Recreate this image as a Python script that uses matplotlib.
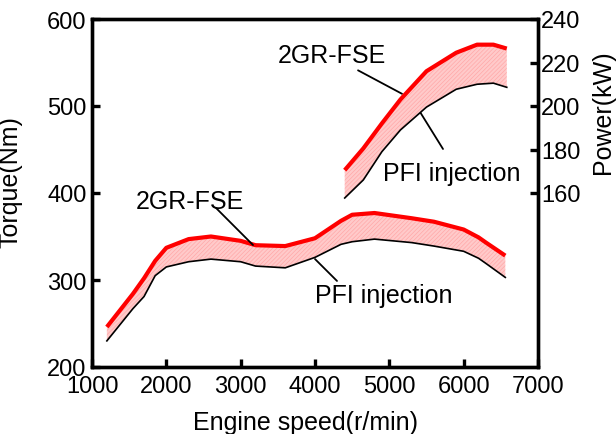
import matplotlib
matplotlib.use("Agg")
import matplotlib.pyplot as plt

plt.rcParams['font.family'] = ['Liberation Sans', 'DejaVu Sans']
plt.rcParams['hatch.linewidth'] = 0.5

# Torque data (Nm)
torque_rpm = [1200, 1550, 1700, 1850, 2000, 2300, 2600, 3000, 3200, 3600, 4000,
              4350, 4500, 4800, 5300, 5600, 6000, 6200, 6300, 6560]
torque_fse = [246, 284, 302, 322, 337, 347, 350, 345, 340, 339, 348,
              368, 375, 377, 371, 367, 358, 349, 343, 328]
torque_pfi = [230, 267, 281, 305, 315, 321, 324, 321, 316, 314, 326,
              341, 344, 347, 343, 339, 333, 325, 319, 303]

# Power data (kW)
power_rpm = [4400, 4650, 4900, 5150, 5500, 5900, 6180, 6400, 6580]
power_fse = [170.5, 180.5, 192, 203, 216, 224.5, 228.2, 228.2, 226.4]
power_pfi = [157.7, 166, 179, 189, 199.5, 207.7, 210, 210.5, 208.6]

fig = plt.figure(figsize=(6.16, 4.35), dpi=100)
ax = fig.add_axes([92/616, 1-368/435, (538-92)/616, (368-20)/435])
ax2 = ax.twinx()

fill_kw = dict(facecolor='#ffcaca', hatch='////////', edgecolor='#ffa8a8', linewidth=0)

ax.fill_between(torque_rpm, torque_pfi, torque_fse, **fill_kw)
ax.plot(torque_rpm, torque_fse, color='#ff0000', lw=3.0, solid_capstyle='butt')
ax.plot(torque_rpm, torque_pfi, color='black', lw=1.2)

ax2.fill_between(power_rpm, power_pfi, power_fse, **fill_kw)
ax2.plot(power_rpm, power_fse, color='#ff0000', lw=3.0, solid_capstyle='butt')
ax2.plot(power_rpm, power_pfi, color='black', lw=1.2)

ax.set_xlim(1000, 7000)
ax.set_ylim(200, 600)
ax2.set_ylim(80, 240)
ax.set_xticks([1000, 2000, 3000, 4000, 5000, 6000, 7000])
ax.set_yticks([200, 300, 400, 500, 600])
ax2.set_yticks([160, 180, 200, 220, 240])

for a in (ax, ax2):
    for s in a.spines.values():
        s.set_linewidth(2.4)
    a.tick_params(direction='in', length=6, width=2.4, labelsize=17, pad=4)
ax.tick_params(axis='x', pad=6)
ax2.tick_params(axis='y', pad=2)

ax.set_xlabel('Engine speed(r/min)', fontsize=18)
ax.xaxis.set_label_coords(0.478, -0.125)
ax.set_ylabel('Torque(Nm)', fontsize=18)
ax.yaxis.set_label_coords(-0.155, 0.534)
ax2.set_ylabel('Power(kW)', fontsize=18)
ax2.yaxis.set_label_coords(1.118, 0.736)

txt = dict(fontsize=18, ha='center', va='center')
line = dict(arrowstyle='-', color='black', lw=1.3, shrinkA=0, shrinkB=0)

ax.text(4229, 558.6, '2GR-FSE', **txt)
ax.annotate('', xy=(5171, 514), xytext=(4579, 541), arrowprops=line)
ax.text(2318, 390.8, '2GR-FSE', **txt)
ax.annotate('', xy=(3166, 340.2), xytext=(2668, 382.8), arrowprops=line)
ax.text(5843, 423, 'PFI injection', **txt)
ax.annotate('', xy=(5413, 493.1), xytext=(5722, 450.6), arrowprops=line)
ax.text(4928, 282.8, 'PFI injection', **txt)
ax.annotate('', xy=(4000, 324.1), xytext=(4296, 298.9), arrowprops=line)

fig.savefig('out.png', dpi=100)
